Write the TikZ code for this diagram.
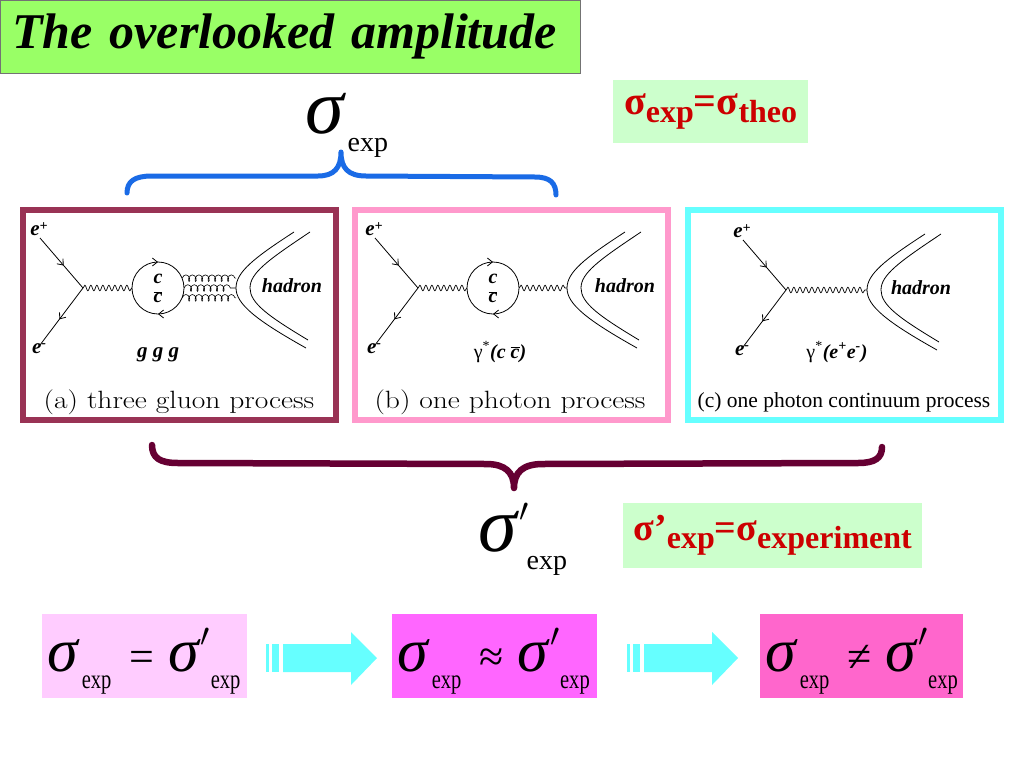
\documentclass[tikz,border=0pt]{standalone}
\usepackage{fontspec}
\usepackage{graphicx}
\newfontfamily\tnr{Liberation Serif}
\usetikzlibrary{arrows.meta,decorations.pathmorphing,decorations.markings}

\definecolor{titlegreen}{HTML}{99FF66}
\definecolor{palegreen}{HTML}{CCFFCC}
\definecolor{deepred}{HTML}{CC0000}
\definecolor{braceblue}{HTML}{1A6BE6}
\definecolor{bracemaroon}{HTML}{660033}
\definecolor{framea}{HTML}{993355}
\definecolor{frameb}{HTML}{FF99CC}
\definecolor{framec}{HTML}{66FFFF}
\definecolor{boxone}{HTML}{FFCCFF}
\definecolor{boxtwo}{HTML}{FF66FF}
\definecolor{boxthree}{HTML}{FF66CC}
\definecolor{arrowcyan}{HTML}{66FFFF}

\newcommand\bigsig[1]{{\fontsize{#1}{#1}\selectfont\itshape σ}}
\newcommand\lowexp[2]{\raisebox{#2}{\fontsize{#1}{#1}\selectfont exp}}
\newcommand\narrowexp{\raisebox{-17pt}{\scalebox{.76}[1]{\fontsize{27}{27}\selectfont exp}}}
\newcommand\hiprime[2]{\rlap{\kern#2\raisebox{#1}{\scalebox{3.3}{$\prime$}}}}
\newcommand\cbar{$\overline{\hbox{c}}$}

\tikzset{
  fermion/.style={line width=.8pt, postaction={decorate},
    decoration={markings, mark=at position .55 with {\arrow{Straight Barb[length=5pt,width=8pt]}}}},
  cloop/.style={line width=.8pt, postaction={decorate},
    decoration={markings, mark=at position .25 with {\arrow{Straight Barb[length=5pt,width=8pt]}},
      mark=at position .75 with {\arrow{Straight Barb[length=5pt,width=8pt]}}}},
  photon/.style={line width=.7pt, decorate, decoration={snake, segment length=6pt, amplitude=2.8pt}},
  gluon/.style={line width=.6pt, decorate, decoration={coil, aspect=.6, segment length=6.5pt, amplitude=3.3pt}},
  hadronline/.style={line width=.8pt},
  bi/.style={inner sep=0pt, font=\tnr\bfseries\itshape\fontsize{#1}{#1}\selectfont},
  bi/.default=19,
  panelframe/.style={line width=5.5pt},
  sig/.style={inner sep=0pt, anchor=base west, font=\tnr},
  redeq/.style={fill=palegreen, inner sep=0pt, text=deepred, font=\tnr\bfseries},
  eqbox/.style={inner sep=0pt, minimum height=84pt, font=\tnr},
  bracepath/.style={line width=5pt, line cap=round, line join=round},
}

\begin{document}
\begin{tikzpicture}[x=1pt,y=-1pt]
\useasboundingbox (0,0) rectangle (1024,768);
\fill[white] (0,0) rectangle (1024,768);

\node[fill=titlegreen, draw=black!55, line width=.8pt, anchor=north west, minimum height=73pt,
  text width=556pt, inner xsep=12pt, inner ysep=0pt, align=left,
  font=\tnr\bfseries\itshape\fontsize{50}{50}\selectfont] (title) at (0,0) {The overlooked amplitude};

% sigma_exp and its brace
\node[sig] (sigtop) at (305,133) {\bigsig{78}\kern4pt\lowexp{28}{-18pt}};
\draw[bracepath, braceblue] (127,193) .. controls (127,181) and (135,176) .. (152,176) -- (318,176)
  .. controls (334,176) and (341,168) .. (341,152) .. controls (341,168) and (348,176) .. (366,176)
  -- (535,177) .. controls (550,177) and (556,183) .. (556,195);

\node[redeq, minimum width=195pt, minimum height=63pt, anchor=north west] (theo) at (613,80)
  {\fontsize{40}{40}\selectfont σ\raisebox{-8pt}{\fontsize{32}{32}\selectfont exp}=σ\raisebox{-8pt}{\fontsize{32}{32}\selectfont theo}};

% panels
\foreach \px/\col in {20/framea,352/frameb,685/framec}
  \draw[panelframe, draw=\col] (\px+3,210) rectangle (\px+316,420);

\foreach \vx/\vy/\nm in {83/288/a,418/288/b,786/290/c}{
  \coordinate (v\nm) at (\vx,\vy);
  \coordinate (ep\nm) at (\vx-43,\vy-50);
  \coordinate (em\nm) at (\vx-43,\vy+57);
  \draw[fermion] (ep\nm) -- (v\nm);
  \draw[fermion] (v\nm) -- (em\nm);
  \node[bi=21] (lep\nm) at (\vx-44,\vy-59) {e\raisebox{5pt}{\fontsize{14}{14}\selectfont +}};
  \node[bi=21] (lem\nm) at (\vx-44,\vy+61) {e\raisebox{6pt}{\fontsize{14}{14}\selectfont -}};
}

\foreach \ax/\ay/\nm/\hx in {236/288/a/292,567/288/b/625,867/290/c/921}{
  \coordinate (hadr\nm) at (\ax,\ay);
  \draw[hadronline] (\ax+58,\ay-56) .. controls (\ax+18,\ay-30) and (\ax,\ay-16) .. (hadr\nm)
    .. controls (\ax,\ay+16) and (\ax+20,\ay+32) .. (\ax+70,\ay+60);
  \draw[hadronline] (\ax+74,\ay-56) .. controls (\ax+32,\ay-28) and (\ax+14,\ay-15) .. (\ax+14,\ay)
    .. controls (\ax+14,\ay+15) and (\ax+32,\ay+28) .. (\ax+72,\ay+52);
  \node[bi=20] (hlab\nm) at (\hx,\ay-2) {hadron};
}

\foreach \cx/\nm in {158/a,493/b}{
  \node[circle, minimum size=52pt, inner sep=0pt] (loop\nm) at (\cx,288) {};
  \draw[cloop] (loop\nm.center) circle[radius=26];
  \node[bi=20] (cup\nm) at (\cx,279) {c};
  \node[bi=20] (cdn\nm) at (\cx,297) {\cbar};
}

\draw[photon] (va) -- (loopa.west);
\foreach \ang in {22,0,-22}
  \draw[gluon] (loopa.\ang) -- (loopa.\ang -| hadra);
\draw[photon] (vb) -- (loopb.west);
\draw[photon] (loopb.east) -- (hadrb);
\draw[photon] (vc) -- (hadrc);

\node[bi=21] (ggg) at (158,355) {g g g};
\node[inner sep=0pt, font=\tnr\fontsize{20}{20}\selectfont] (gamb) at (500,352)
  {γ\textsuperscript{*}{\bfseries\itshape(c \cbar)}};
\node[inner sep=0pt, font=\tnr\fontsize{20}{20}\selectfont] (gamc) at (837,352)
  {γ\textsuperscript{*}{\bfseries\itshape(e\textsuperscript{+}e\textsuperscript{-})}};

\node[inner sep=0pt] (capa) at (179,402) {\scalebox{1.18}[1]{\fontsize{25}{25}\selectfont (a) three gluon process}};
\node[inner sep=0pt] (capb) at (510,402) {\scalebox{1.18}[1]{\fontsize{25}{25}\selectfont (b) one photon process}};
\node[inner sep=0pt, font=\tnr\fontsize{21.5}{21.5}\selectfont] (capc) at (844,402) {(c) one photon continuum process};

% sigma'_exp and its brace
\draw[bracepath, bracemaroon, line width=6.5pt] (152,445) .. controls (152,458) and (160,463) .. (178,463)
  -- (486,464) .. controls (505,464) and (514,472) .. (514,488) .. controls (514,472) and (523,464) .. (543,464)
  -- (858,463) .. controls (875,463) and (882,458) .. (882,447);
\node[sig] (sigmid) at (478,551) {\bigsig{78}\hiprime{30pt}{3pt}\kern10pt\lowexp{28}{-18pt}};

\node[redeq, minimum width=299pt, minimum height=65pt, anchor=north west] (expt) at (623,503)
  {\fontsize{38}{38}\selectfont σ’\raisebox{-8pt}{\fontsize{32}{32}\selectfont exp}=σ\raisebox{-8pt}{\fontsize{32}{32}\selectfont experiment}};

% the three cases
\node[eqbox, fill=boxone, minimum width=205pt, anchor=north west] (caseone) at (42,614) {};
\node[eqbox, fill=boxtwo, minimum width=205pt, anchor=north west] (casetwo) at (392,614) {};
\node[eqbox, fill=boxthree, minimum width=203pt, anchor=north west] (casethree) at (760,614) {};
\foreach \bx/\rel/\nm in {47/=/one,397/≈/two,765/≠/three}
  \node[sig] (eq\nm) at (\bx,671) {\bigsig{62}\kern4pt\narrowexp\hspace{18pt}{\fontsize{44}{44}\selectfont\rel}\hspace{14pt}\bigsig{62}\hiprime{25pt}{2pt}\kern12pt\narrowexp};

\foreach \ax in {266,627}{
  \fill[arrowcyan] (\ax,644) rectangle (\ax+3,672);
  \fill[arrowcyan] (\ax+6,644) rectangle (\ax+13,672);
  \fill[arrowcyan] (\ax+17,644) -- (\ax+85,644) -- (\ax+85,632) -- (\ax+111,658)
    -- (\ax+85,685) -- (\ax+85,672) -- (\ax+17,672) -- cycle;
}
\end{tikzpicture}
\end{document}
